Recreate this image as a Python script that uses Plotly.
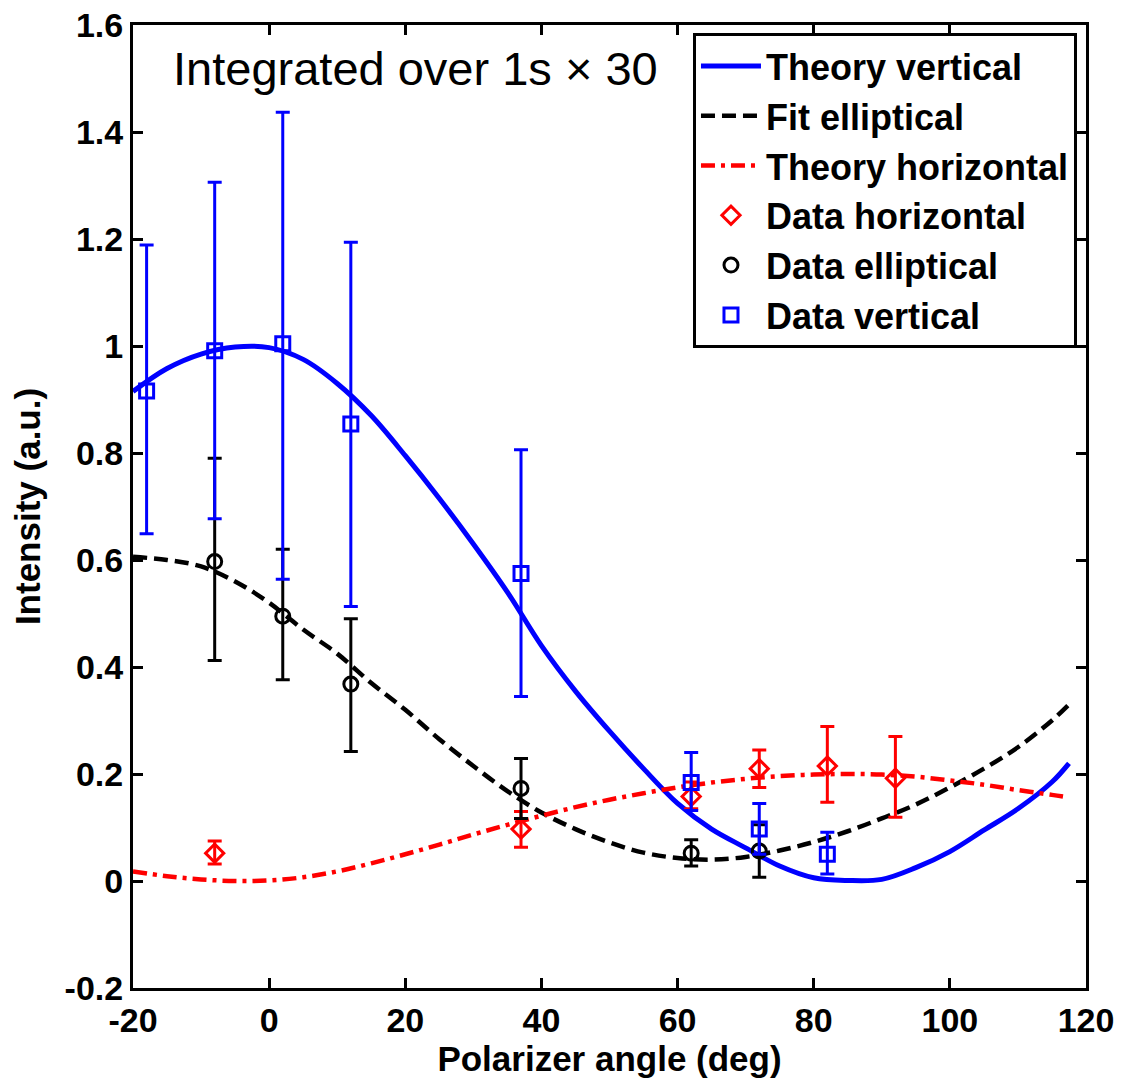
import plotly.graph_objects as go

# ---------------- data ----------------
curve_angle = [-20, -15, -10, -5, 0, 5, 10, 15, 20, 25, 30, 35, 40, 45, 50, 55,
               60, 65, 70, 75, 80, 85, 90, 95, 100, 105, 110, 115, 117.5]
theory_vertical = [0.915, 0.958, 0.985, 0.998, 0.997, 0.975, 0.930, 0.870, 0.795,
                   0.715, 0.630, 0.540, 0.440, 0.355, 0.280, 0.210, 0.145, 0.097,
                   0.062, 0.028, 0.006, 0.001, 0.003, 0.025, 0.055, 0.095, 0.135,
                   0.185, 0.220]
fit_elliptical = [0.606, 0.600, 0.588, 0.560, 0.520, 0.470, 0.425, 0.370, 0.320,
                  0.265, 0.215, 0.168, 0.128, 0.097, 0.072, 0.053, 0.043, 0.040,
                  0.045, 0.057, 0.073, 0.093, 0.117, 0.143, 0.175, 0.210, 0.250,
                  0.300, 0.330]
theory_horizontal = [0.018, 0.009, 0.003, 0.000, 0.001, 0.007, 0.018, 0.033, 0.050,
                     0.068, 0.087, 0.105, 0.122, 0.138, 0.152, 0.164, 0.175, 0.184,
                     0.191, 0.196, 0.199, 0.200, 0.199, 0.195, 0.188, 0.180, 0.170,
                     0.161, 0.156]

horiz_angle = [-8, 37, 62, 72, 82, 92]
horiz_value = [0.052, 0.097, 0.158, 0.210, 0.215, 0.192]
horiz_upper = [0.075, 0.130, 0.185, 0.245, 0.289, 0.270]
horiz_lower = [0.032, 0.063, 0.135, 0.175, 0.147, 0.119]

ellip_angle = [-8, 2, 12, 37, 62, 72]
ellip_value = [0.597, 0.495, 0.368, 0.173, 0.052, 0.056]
ellip_upper = [0.790, 0.620, 0.490, 0.229, 0.077, 0.105]
ellip_lower = [0.412, 0.376, 0.242, 0.117, 0.028, 0.007]

vert_angle = [-18, -8, 2, 12, 37, 62, 72, 82]
vert_value = [0.916, 0.991, 1.004, 0.854, 0.575, 0.184, 0.097, 0.050]
vert_upper = [1.189, 1.306, 1.437, 1.194, 0.806, 0.240, 0.145, 0.091]
vert_lower = [0.649, 0.677, 0.564, 0.513, 0.345, 0.132, 0.050, 0.013]

x_ticks = [-20, 0, 20, 40, 60, 80, 100, 120]
x_tick_labels = ["-20", "0", "20", "40", "60", "80", "100", "120"]
y_ticks = [-0.2, 0, 0.2, 0.4, 0.6, 0.8, 1.0, 1.2, 1.4, 1.6]
y_tick_labels = ["-0.2", "0", "0.2", "0.4", "0.6", "0.8", "1", "1.2", "1.4", "1.6"]

FONT = "Liberation Sans, Arial, sans-serif"
BLUE = "#0000ff"
RED = "#ff0000"
BLACK = "#000000"


def err(vals, hi, lo):
    plus = [h - v for v, h in zip(vals, hi)]
    minus = [v - l for v, l in zip(vals, lo)]
    return plus, minus


fig = go.Figure()

fig.add_trace(go.Scatter(x=curve_angle, y=theory_vertical, mode="lines",
                         name="Theory vertical", line_shape="spline",
                         line=dict(color=BLUE, width=5)))
fig.add_trace(go.Scatter(x=curve_angle, y=fit_elliptical, mode="lines",
                         name="Fit elliptical", line_shape="spline",
                         line=dict(color=BLACK, width=4.5, dash="14px,7px")))
fig.add_trace(go.Scatter(x=curve_angle, y=theory_horizontal, mode="lines",
                         name="Theory horizontal", line_shape="spline",
                         line=dict(color=RED, width=4.5, dash="14px,6px,4px,6px")))

for name, xs, vals, hi, lo, color, symbol in [
    ("Data horizontal", horiz_angle, horiz_value, horiz_upper, horiz_lower, RED, "diamond-open"),
    ("Data elliptical", ellip_angle, ellip_value, ellip_upper, ellip_lower, BLACK, "circle-open"),
    ("Data vertical", vert_angle, vert_value, vert_upper, vert_lower, BLUE, "square-open"),
]:
    plus, minus = err(vals, hi, lo)
    fig.add_trace(go.Scatter(
        x=xs, y=vals, mode="markers", name=name,
        marker=dict(symbol=symbol, size=14, color=color, line=dict(color=color, width=3)),
        error_y=dict(type="data", symmetric=False, array=plus, arrayminus=minus,
                     color=color, thickness=3, width=7),
    ))

axis_common = dict(
    showline=True, linecolor=BLACK, linewidth=3, mirror="allticks",
    ticks="inside", ticklen=10, tickwidth=3, tickcolor=BLACK,
    showgrid=False, zeroline=False, automargin=False,
    tickfont=dict(family=FONT, size=34, color=BLACK, weight="bold"),
)

fig.update_xaxes(range=[-20, 120], tickvals=x_ticks, ticktext=x_tick_labels,
                 title=dict(text="Polarizer angle (deg)", standoff=4,
                            font=dict(family=FONT, size=35, color=BLACK, weight="bold")),
                 **axis_common)
fig.update_yaxes(range=[-0.2, 1.6], tickvals=y_ticks, ticktext=y_tick_labels,
                 title=dict(text="Intensity (a.u.)", standoff=14,
                            font=dict(family=FONT, size=35, color=BLACK, weight="bold")),
                 **axis_common)

fig.add_annotation(text="Integrated over 1s × 30", xref="paper", yref="paper",
                   x=0.040, y=0.9545, xanchor="left", yanchor="middle", showarrow=False,
                   font=dict(family=FONT, size=47, color=BLACK))

fig.update_layout(
    width=1121, height=1080,
    margin=dict(l=133, r=35, t=25, b=92),
    paper_bgcolor="white", plot_bgcolor="white",
    showlegend=True,
    legend=dict(x=0.5876, y=0.9917, xanchor="left", yanchor="top",
                bgcolor="white", bordercolor=BLACK, borderwidth=3,
                itemwidth=60, tracegroupgap=0,
                font=dict(family=FONT, size=36, color=BLACK, weight="bold")),
)

fig.write_html("out.html", config={"displayModeBar": False},
               post_script="document.body.style.margin='0px';")
